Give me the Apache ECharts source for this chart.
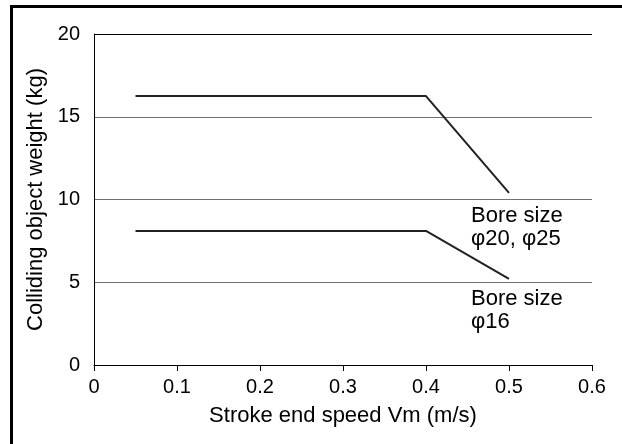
<!DOCTYPE html>
<html>
<head>
<meta charset="utf-8">
<script src="https://cdn.jsdelivr.net/npm/echarts@6/dist/echarts.min.js"></script>
<style>
  html, body { margin: 0; padding: 0; background: #fff; }
  #chart { width: 622px; height: 444px; }
</style>
</head>
<body>
<div id="chart"></div>
<script>
// Stroke end speed (m/s) at the corner points of each allowable-weight curve
const speedLarge = [0.05, 0.4, 0.5];
const weightLarge = [16.25, 16.25, 10.4];   // bore size φ20, φ25
const speedSmall = [0.05, 0.4, 0.5];
const weightSmall = [8.1, 8.1, 5.2];        // bore size φ16

const xTicks = [0, 0.1, 0.2, 0.3, 0.4, 0.5, 0.6];
const yTicks = [0, 5, 10, 15, 20];

const labelLarge = 'Bore size\nφ20, φ25';
const labelSmall = 'Bore size\nφ16';
const xName = 'Stroke end speed Vm (m/s)';
const yName = 'Colliding object weight (kg)';

const font = 'Arial, "Liberation Sans", sans-serif';

function pairs(xs, ys) { return xs.map((x, i) => [x, ys[i]]); }
function last(arr) { return arr[arr.length - 1]; }

const chart = echarts.init(document.getElementById('chart'), null, { renderer: 'canvas' });

// Caption placed just below the end point of a curve
function caption(x, y, text, dy) {
  return {
    type: 'scatter',
    data: [[x, y]],
    symbolSize: 0,
    silent: true,
    itemStyle: { opacity: 1, color: '#000' },
    label: {
      show: true,
      formatter: text,
      position: [-38, dy],
      align: 'left',
      verticalAlign: 'top',
      color: '#000',
      opacity: 1,
      fontFamily: font,
      fontSize: 22,
      lineHeight: 23
    },
    labelLayout: { hideOverlap: false },
    z: 4
  };
}

chart.setOption({
  animation: false,
  backgroundColor: '#fff',
  grid: { left: 94, right: 30, top: 34, bottom: 79, containLabel: false },
  xAxis: {
    type: 'value',
    min: xTicks[0], max: last(xTicks), interval: 0.1,
    name: xName, nameLocation: 'middle', nameGap: 40,
    nameTextStyle: { color: '#000', fontFamily: font, fontSize: 22 },
    axisLine: { show: true, onZero: false, lineStyle: { color: '#000', width: 1 } },
    axisTick: { show: true, inside: false, length: 6, lineStyle: { color: '#000' } },
    axisLabel: { color: '#000', fontFamily: font, fontSize: 20, margin: 12,
                 formatter: (v) => String(Math.round(v * 10) / 10) },
    splitLine: { show: false }
  },
  yAxis: {
    type: 'value',
    min: yTicks[0], max: last(yTicks), interval: 5,
    name: yName, nameLocation: 'middle', nameGap: 42,
    nameTextStyle: { color: '#000', fontFamily: font, fontSize: 22 },
    axisLine: { show: true, lineStyle: { color: '#000', width: 1 } },
    axisTick: { show: false },
    axisLabel: { color: '#000', fontFamily: font, fontSize: 20, margin: 14 },
    splitLine: { show: true, lineStyle: { color: '#707070', width: 1 } }
  },
  series: [
    {
      type: 'line',
      data: pairs(speedLarge, weightLarge),
      symbol: 'none', showSymbol: false,
      lineStyle: { color: '#222', width: 2 },
      markLine: {
        silent: true, symbol: 'none', label: { show: false },
        lineStyle: { color: '#000', width: 1, type: 'solid' },
        data: [{ yAxis: last(yTicks) }]
      },
      z: 3
    },
    {
      type: 'line',
      data: pairs(speedSmall, weightSmall),
      symbol: 'none', showSymbol: false,
      lineStyle: { color: '#222', width: 2 },
      z: 3
    },
    caption(last(speedLarge), last(weightLarge), labelLarge, 12),
    caption(last(speedSmall), last(weightSmall), labelSmall, 8)
  ],
  graphic: [
    {
      type: 'rect',
      shape: { x: 11.5, y: 6.5, width: 640, height: 460 },
      style: { fill: 'none', stroke: '#000', lineWidth: 3 },
      silent: true, z: 10
    }
  ]
});
</script>
</body>
</html>
